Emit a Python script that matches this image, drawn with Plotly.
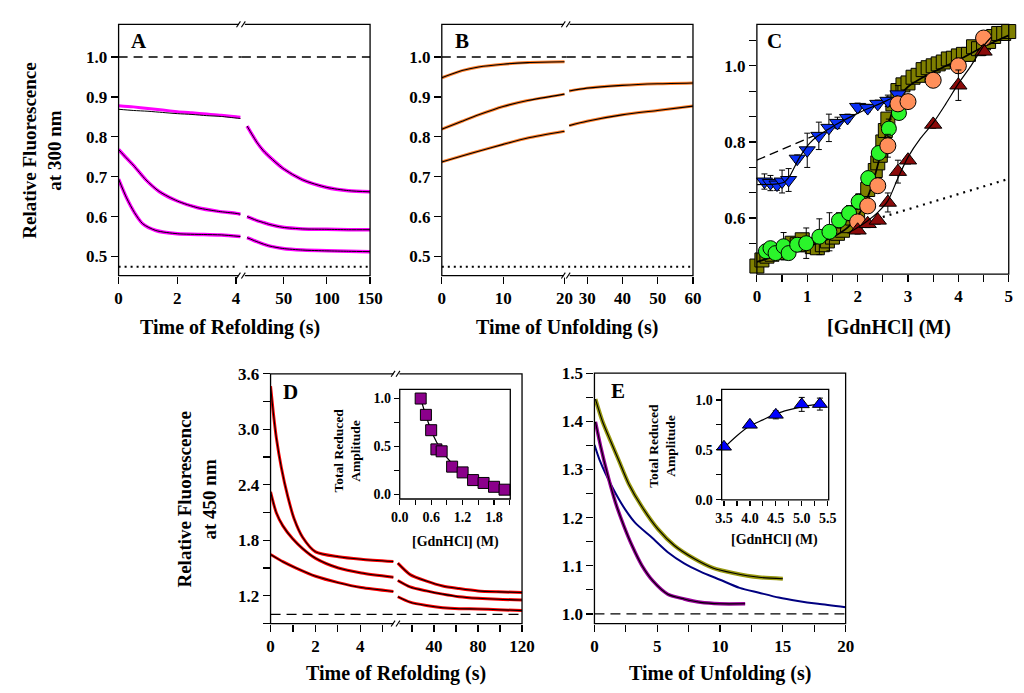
import plotly.graph_objects as go

# ---------------- data ----------------
# Panel A : refolding traces at 300 nm (left: 0-4.2 s, right: after the axis break)
A1_t_left = [0, 0.5, 1.0, 1.5, 2.0, 2.5, 3.0, 3.5, 4.0, 4.15]
A1_data_left = [0.878, 0.875, 0.871, 0.867, 0.863, 0.860, 0.857, 0.854, 0.850, 0.849]
A1_fit_left = [0.869, 0.866, 0.864, 0.861, 0.858, 0.856, 0.853, 0.851, 0.847, 0.846]
A2_t_left = [0, 0.25, 0.5, 0.93, 1.38, 2.0, 2.7, 3.4, 4.0, 4.15]
A2_left = [0.768, 0.748, 0.729, 0.692, 0.663, 0.639, 0.622, 0.613, 0.608, 0.606]
A3_t_left = [0, 0.27, 0.54, 0.82, 1.27, 2.0, 2.9, 3.5, 4.15]
A3_left = [0.694, 0.647, 0.610, 0.582, 0.565, 0.557, 0.555, 0.554, 0.550]
A_t_right = [7.6, 13.3, 19, 26.5, 34, 49, 72, 100, 125, 150]
A1_right = [0.827, 0.806, 0.786, 0.765, 0.749, 0.721, 0.692, 0.673, 0.665, 0.662]
A2_right = [0.600, 0.595, 0.590, 0.585, 0.580, 0.573, 0.569, 0.568, 0.567, 0.567]
A3_right = [0.547, 0.542, 0.537, 0.531, 0.526, 0.520, 0.516, 0.514, 0.513, 0.512]
A_native = 1.0
A_unfolded = 0.474

# Panel B : unfolding traces at 300 nm
B_t_left = [0, 3.3, 6, 10, 14, 20]
B1_left = [0.948, 0.966, 0.975, 0.982, 0.986, 0.988]
B2_left = [0.819, 0.839, 0.855, 0.876, 0.891, 0.907]
B3_left = [0.737, 0.752, 0.764, 0.781, 0.797, 0.814]
B_t_right = [24.9, 29.9, 39.9, 49.9, 60]
B2_right = [0.915, 0.922, 0.929, 0.933, 0.935]
B3_right = [0.828, 0.839, 0.855, 0.866, 0.877]

# Panel C : equilibrium / kinetic amplitudes vs [GdnHCl]
C_sq_x = [0.0, 0.1, 0.2, 0.3, 0.45, 0.6, 0.7, 0.8, 0.9, 1.0, 1.1, 1.2, 1.3, 1.4, 1.5, 1.6,
          1.7, 1.8, 1.9, 2.0, 2.1, 2.2, 2.3, 2.35, 2.4, 2.45, 2.5, 2.55, 2.6, 2.7, 2.8, 2.9,
          3.0, 3.1, 3.2, 3.3, 3.4, 3.5, 3.6, 3.7, 3.8, 3.9, 4.0, 4.1, 4.2, 4.3, 4.4, 4.5,
          4.6, 4.7, 4.8, 4.9, 5.0]
C_sq_y = [0.474, 0.490, 0.500, 0.505, 0.510, 0.520, 0.534, 0.530, 0.543, 0.530, 0.525, 0.522,
          0.530, 0.540, 0.550, 0.560, 0.568, 0.580, 0.600, 0.615, 0.645, 0.675, 0.705, 0.725,
          0.745, 0.765, 0.800, 0.830, 0.860, 0.900, 0.935, 0.950, 0.955, 0.970, 0.975, 0.990,
          0.995, 1.000, 1.005, 1.010, 1.018, 1.020, 1.026, 1.030, 1.030, 1.050, 1.045, 1.060,
          1.064, 1.077, 1.085, 1.085, 1.090]
C_blue_x = [0.15, 0.27, 0.4, 0.5, 0.63, 0.8, 1.0, 1.23, 1.43, 1.6, 1.8, 2.0, 2.2, 2.4, 2.6, 2.8]
C_blue_y = [0.696, 0.692, 0.688, 0.696, 0.700, 0.756, 0.778, 0.816, 0.837, 0.850, 0.863, 0.892,
            0.889, 0.900, 0.908, 0.925]
C_blue_err = [0.02, 0.02, 0.015, 0.03, 0.03, 0.01, 0.045, 0.036, 0.036, 0.015, 0.01, 0.01,
              0.01, 0.01, 0.015, 0.023]
C_green_x = [0.18, 0.27, 0.37, 0.53, 0.63, 0.8, 0.98, 1.24, 1.44, 1.63, 1.83, 2.02, 2.21, 2.42,
             2.62, 2.82]
C_green_y = [0.513, 0.521, 0.508, 0.526, 0.508, 0.530, 0.534, 0.551, 0.564, 0.594, 0.613, 0.643,
             0.705, 0.771, 0.835, 0.876]
C_green_err = [0.01, 0.01, 0.01, 0.036, 0.01, 0.015, 0.04, 0.047, 0.05, 0.02, 0.02, 0.02, 0.015,
               0.015, 0.025, 0.015]
C_orange_x = [2.0, 2.2, 2.4, 2.6, 2.8, 3.0, 3.5, 4.0, 4.5]
C_orange_y = [0.590, 0.632, 0.685, 0.790, 0.900, 0.906, 0.962, 1.000, 1.073]
C_orange_err = [0.01, 0.01, 0.01, 0.03, 0.01, 0.01, 0.01, 0.02, 0.01]
C_red_x = [2.0, 2.2, 2.4, 2.6, 2.8, 3.0, 3.5, 4.0, 4.5]
C_red_y = [0.568, 0.585, 0.594, 0.641, 0.722, 0.752, 0.846, 0.949, 1.038]
C_red_err = [0.01, 0.01, 0.01, 0.025, 0.03, 0.01, 0.01, 0.04, 0.01]
C_fit_x = [0, 0.5, 1.0, 1.5, 1.8, 2.0, 2.2, 2.35, 2.5, 2.6, 2.7, 2.8, 3.0, 3.3, 3.6, 4.0, 4.5, 5.0]
C_fit_y = [0.485, 0.505, 0.525, 0.550, 0.575, 0.605, 0.655, 0.715, 0.790, 0.840, 0.885, 0.915,
           0.945, 0.970, 0.990, 1.015, 1.050, 1.080]
C_bluefit_x = [0, 0.4, 0.55, 0.65, 0.75, 0.85, 0.95, 1.05, 1.2, 1.4, 1.6, 1.8, 2.0, 2.2, 2.4, 2.6, 2.8]
C_bluefit_y = [0.688, 0.690, 0.695, 0.710, 0.735, 0.760, 0.780, 0.797, 0.815, 0.832, 0.848, 0.862,
               0.875, 0.887, 0.898, 0.910, 0.922]
C_redfit_x = [1.8, 2.0, 2.2, 2.4, 2.6, 2.8, 3.0, 3.25, 3.5, 3.75, 4.0, 4.25, 4.5, 4.65]
C_redfit_y = [0.560, 0.575, 0.593, 0.615, 0.645, 0.705, 0.760, 0.810, 0.850, 0.900, 0.953, 1.000,
              1.052, 1.075]
C_native_x = [0, 1.2]
C_native_y = [0.752, 0.820]
C_unf_x = [2.5, 5.0]
C_unf_y = [0.603, 0.703]

# Panel D : refolding traces at 450 nm
D1_t_left = [0, 0.12, 0.26, 0.48, 0.77, 1.06, 1.43, 2.01, 3.03, 4.05, 5.48]
D1_left = [3.466, 3.186, 2.905, 2.588, 2.272, 2.027, 1.833, 1.675, 1.622, 1.595, 1.570]
D2_t_left = [0, 0.26, 0.55, 0.99, 1.43, 2.01, 3.03, 4.05, 5.48]
D2_left = [2.325, 2.096, 1.956, 1.816, 1.711, 1.605, 1.500, 1.447, 1.401]
D3_t_left = [0, 0.55, 1.14, 2.01, 3.03, 4.05, 5.48]
D3_left = [1.647, 1.569, 1.500, 1.411, 1.342, 1.289, 1.247]
D_t_right = [7.2, 18.4, 33.2, 48, 62.8, 80, 98.3, 120]
D1_right = [1.553, 1.429, 1.359, 1.306, 1.279, 1.253, 1.243, 1.236]
D2_right = [1.366, 1.296, 1.253, 1.218, 1.190, 1.173, 1.162, 1.155]
D3_right = [1.190, 1.131, 1.095, 1.071, 1.060, 1.058, 1.050, 1.040]
D_base = 1.0
Dins_x = [0.4, 0.5, 0.6, 0.7, 0.8, 1.0, 1.2, 1.4, 1.6, 1.8, 2.0]
Dins_y = [1.00, 0.83, 0.67, 0.47, 0.45, 0.29, 0.23, 0.15, 0.12, 0.08, 0.05]
Dins_fit_y = [1.00, 0.82, 0.67, 0.55, 0.46, 0.32, 0.22, 0.15, 0.11, 0.08, 0.05]

# Panel E : unfolding traces at 450 nm
E_olive_t = [0.08, 0.65, 1.3, 1.95, 2.73, 3.77, 5.06, 6.36, 7.92, 9.48, 11.04, 13.1, 15.0]
E_olive = [1.446, 1.399, 1.358, 1.318, 1.270, 1.223, 1.176, 1.142, 1.115, 1.095, 1.085, 1.076, 1.073]
E_navy_t = [0, 0.39, 0.91, 1.69, 2.47, 3.25, 4.55, 5.84, 7.14, 8.44, 10.0, 11.56, 13.1, 14.67,
            16.2, 17.8, 20.0]
E_navy = [1.351, 1.321, 1.290, 1.250, 1.216, 1.189, 1.159, 1.128, 1.105, 1.088, 1.071, 1.054,
          1.044, 1.034, 1.027, 1.021, 1.014]
E_purple_t = [0.08, 0.52, 1.04, 1.69, 2.34, 2.99, 3.77, 4.67, 5.84, 7.14, 8.44, 10.0, 12.0]
E_purple = [1.399, 1.345, 1.290, 1.230, 1.183, 1.142, 1.101, 1.068, 1.041, 1.031, 1.024, 1.021, 1.021]
E_base = 1.0
Eins_x = [3.5, 4.0, 4.5, 5.0, 5.35]
Eins_y = [0.53, 0.75, 0.85, 0.955, 0.958]
Eins_err = [0.02, 0.02, 0.04, 0.07, 0.06]
Eins_fit_x = [3.5, 3.75, 4.0, 4.25, 4.5, 4.75, 5.0, 5.35]
Eins_fit_y = [0.52, 0.64, 0.74, 0.80, 0.86, 0.90, 0.93, 0.96]

# tick labels
A_yt = [0.5, 0.6, 0.7, 0.8, 0.9, 1.0]
A_yl = ["0.5", "0.6", "0.7", "0.8", "0.9", "1.0"]
A_xt_l, A_xl_l = [0, 2, 4], ["0", "2", "4"]
A_xt_r, A_xl_r = [50, 100, 150], ["50", "100", "150"]
B_xt_l, B_xl_l = [0, 10, 20], ["0", "10", "20"]
B_xt_r, B_xl_r = [30, 40, 50, 60], ["30", "40", "50", "60"]
C_xt = [0, 0.5, 1, 1.5, 2, 2.5, 3, 3.5, 4, 4.5, 5]
C_xl = ["0", "", "1", "", "2", "", "3", "", "4", "", "5"]
C_yt = [0.5333, 0.6, 0.6667, 0.7333, 0.8, 0.8667, 0.9333, 1.0, 1.0667]
C_yl = ["", "0.6", "", "", "0.8", "", "", "1.0", ""]
D_yt = [0.9, 1.2, 1.5, 1.8, 2.1, 2.4, 2.7, 3.0, 3.3, 3.6]
D_yl = ["", "1.2", "", "1.8", "", "2.4", "", "3.0", "", "3.6"]
D_xt_l, D_xl_l = [0, 1, 2, 3, 4, 5], ["0", "", "2", "", "4", ""]
D_xt_r, D_xl_r = [20, 40, 60, 80, 100, 120], ["", "40", "", "80", "", "120"]
E_yt = [1.0, 1.05, 1.1, 1.15, 1.2, 1.25, 1.3, 1.35, 1.4, 1.45, 1.5]
E_yl = ["1.0", "", "1.1", "", "1.2", "", "1.3", "", "1.4", "", "1.5"]
E_xt = [0, 2.5, 5, 7.5, 10, 12.5, 15, 17.5, 20]
E_xl = ["0", "", "5", "", "10", "", "15", "", "20"]
Di_xt = [0, 0.3, 0.6, 0.9, 1.2, 1.5, 1.8, 2.1]
Di_xl = ["0.0", "", "0.6", "", "1.2", "", "1.8", ""]
In_yt = [0, 0.25, 0.5, 0.75, 1.0]
In_yl = ["0.0", "", "0.5", "", "1.0"]
Ei_xt = [3.5, 3.75, 4.0, 4.25, 4.5, 4.75, 5.0, 5.25, 5.5]
Ei_xl = ["3.5", "", "4.0", "", "4.5", "", "5.0", "", "5.5"]

# ---------------- layout helpers ----------------
W, H = 1024, 693
FONT = "Liberation Serif, Times New Roman, serif"


def X(px):
    return px / W


def Y(py):
    return 1 - py / H


def tf(size):
    return dict(family=FONT, size=size, color="black", weight="bold")


def ax(dom, rng, anchor, tv, tt, size=17, tl=7):
    return dict(domain=dom, range=rng, anchor=anchor, tickmode="array", tickvals=tv,
                ticktext=tt, ticks="outside", ticklen=tl, tickwidth=1.2, tickcolor="black",
                showline=False, showgrid=False, zeroline=False, tickfont=tf(size),
                fixedrange=True)


fig = go.Figure()


def line(x, y, xa, ya, color, width, dash=None, shape="spline"):
    fig.add_trace(go.Scatter(x=x, y=y, xaxis=xa, yaxis=ya, mode="lines",
                             line=dict(color=color, width=width, dash=dash, shape=shape,
                                       smoothing=0.7),
                             showlegend=False, hoverinfo="skip"))


def pts(x, y, xa, ya, color, symbol, size, err=None):
    fig.add_trace(go.Scatter(x=x, y=y, xaxis=xa, yaxis=ya, mode="markers",
                             marker=dict(color=color, symbol=symbol, size=size,
                                         line=dict(color="black", width=1)),
                             error_y=(dict(type="data", array=err, color="black",
                                           thickness=1, width=3) if err else None),
                             cliponaxis=False, showlegend=False, hoverinfo="skip"))


MAG, ORG, RED = "#FF00FF", "#FF7F2A", "#FF0000"

# ---- Panel A ----
line([0, 4.2], [A_native] * 2, "x", "y", "black", 1.3, "9px,6px", "linear")
line([1.6, 150], [A_native] * 2, "x2", "y", "black", 1.3, "9px,6px", "linear")
line([0, 4.05], [A_unfolded] * 2, "x", "y", "black", 2, "2px,4px", "linear")
line([6, 150], [A_unfolded] * 2, "x2", "y", "black", 2, "2px,4px", "linear")
line(A1_t_left, A1_data_left, "x", "y", MAG, 3)
line(A1_t_left, A1_fit_left, "x", "y", "black", 1)
for tl_, yl_ in [(A2_t_left, A2_left), (A3_t_left, A3_left)]:
    line(tl_, yl_, "x", "y", MAG, 3.5)
    line(tl_, yl_, "x", "y", "black", 1)
for yr in [A1_right, A2_right, A3_right]:
    line(A_t_right, yr, "x2", "y", MAG, 3.5)
    line(A_t_right, yr, "x2", "y", "black", 1)

# ---- Panel B ----
line([0, 20.4], [A_native] * 2, "x3", "y2", "black", 1.3, "9px,6px", "linear")
line([24.2, 60], [A_native] * 2, "x4", "y2", "black", 1.3, "9px,6px", "linear")
line([0, 20.0], [A_unfolded] * 2, "x3", "y2", "black", 2, "2px,4px", "linear")
line([24.6, 60], [A_unfolded] * 2, "x4", "y2", "black", 2, "2px,4px", "linear")
for yl_ in [B1_left, B2_left, B3_left]:
    line(B_t_left, yl_, "x3", "y2", ORG, 3)
    line(B_t_left, yl_, "x3", "y2", "black", 1.1)
for yr in [B2_right, B3_right]:
    line(B_t_right, yr, "x4", "y2", ORG, 3)
    line(B_t_right, yr, "x4", "y2", "black", 1.1)

# ---- Panel C ----
pts(C_sq_x, C_sq_y, "x5", "y3", "#7F7F00", "square", 14)
line(C_fit_x, C_fit_y, "x5", "y3", "black", 1.8)
line(C_native_x, C_native_y, "x5", "y3", "black", 1.3, "9px,5px", "linear")
line(C_unf_x, C_unf_y, "x5", "y3", "black", 2.2, "2px,5px", "linear")
pts(C_blue_x, C_blue_y, "x5", "y3", "#0A30F5", "triangle-down", 14, C_blue_err)
line(C_bluefit_x, C_bluefit_y, "x5", "y3", "black", 1.2)
pts(C_green_x, C_green_y, "x5", "y3", "#2BF52B", "circle", 15, C_green_err)
pts(C_orange_x, C_orange_y, "x5", "y3", "#FF8F5A", "circle", 16, C_orange_err)
pts(C_red_x, C_red_y, "x5", "y3", "#8B0A0A", "triangle-up", 15, C_red_err)
line(C_redfit_x, C_redfit_y, "x5", "y3", "black", 1.2)

# ---- Panel D ----
line([0, 5.62], [D_base] * 2, "x6", "y4", "black", 1.3, "10px,6px", "linear")
line([6, 120], [D_base] * 2, "x7", "y4", "black", 1.3, "10px,6px", "linear")
for tl_, yl_ in [(D1_t_left, D1_left), (D2_t_left, D2_left), (D3_t_left, D3_left)]:
    line(tl_, yl_, "x6", "y4", RED, 3)
    line(tl_, yl_, "x6", "y4", "black", 1.1)
for yr in [D1_right, D2_right, D3_right]:
    line(D_t_right, yr, "x7", "y4", RED, 3)
    line(D_t_right, yr, "x7", "y4", "black", 1.1)
line(Dins_x, Dins_fit_y, "x9", "y6", "black", 1.2)
pts(Dins_x, Dins_y, "x9", "y6", "#8B008B", "square", 11)

# ---- Panel E ----
line([0, 20], [E_base] * 2, "x8", "y5", "black", 1.3, "10px,6px", "linear")
line(E_navy_t, E_navy, "x8", "y5", "#000080", 2)
line(E_olive_t, E_olive, "x8", "y5", "#9A9A10", 4)
line(E_olive_t, E_olive, "x8", "y5", "black", 1.1)
line(E_purple_t, E_purple, "x8", "y5", "#990099", 3.5)
line(E_purple_t, E_purple, "x8", "y5", "black", 1.1)
line(Eins_fit_x, Eins_fit_y, "x10", "y7", "black", 1.2)
pts(Eins_x, Eins_y, "x10", "y7", "#0000FF", "triangle-up", 13, Eins_err)

# ---------------- axes ----------------
yA = [Y(273.3), Y(15.7)]
layout = dict(
    xaxis=ax([X(112), X(238)], [0, 4.2], "y", A_xt_l, A_xl_l),
    xaxis2=ax([X(238), X(369)], [1.6, 150], "y", A_xt_r, A_xl_r),
    yaxis=ax(yA, [0.452, 1.082], "x", A_yt, A_yl),
    xaxis3=ax([X(442.3), X(570)], [0, 20.37], "y2", B_xt_l, B_xl_l),
    xaxis4=ax([X(570), X(699)], [24.2, 60], "y2", B_xt_r, B_xl_r),
    yaxis2=ax(yA, [0.452, 1.082], "x3", A_yt, A_yl),
    xaxis5=ax([X(764.3), X(1021.7)], [0, 5], "y3", C_xt, C_xl),
    yaxis3=ax([Y(271.7), Y(15.7)], [0.453, 1.109], "x5", C_yt, C_yl),
    xaxis6=ax([X(267.3), X(396)], [0, 5.62], "y4", D_xt_l, D_xl_l),
    xaxis7=ax([X(396), X(524.3)], [6, 120], "y4", D_xt_r, D_xl_r),
    yaxis4=ax([Y(630), Y(374)], [0.9, 3.6], "x6", D_yt, D_yl),
    xaxis8=ax([X(598.3), X(855)], [0, 20], "y5", E_xt, E_xl),
    yaxis5=ax([Y(630), Y(373.3)], [0.98, 1.5], "x8", E_yt, E_yl),
    xaxis9=ax([X(399.3), X(512.3)], [0, 2.11], "y6", Di_xt, Di_xl, 14, 5),
    yaxis6=ax([Y(502.3), Y(390)], [-0.047, 1.095], "x9", In_yt, In_yl, 14, 5),
    xaxis10=ax([X(728.3), X(837.7)], [3.455, 5.52], "y7", Ei_xt, Ei_xl, 14, 5),
    yaxis7=ax([Y(503.3), Y(390)], [-0.003, 1.105], "x10", In_yt, In_yl, 14, 5),
)

shapes = []


def frame(x0, y0, x1, y1):
    shapes.append(dict(type="rect", xref="paper", yref="paper", x0=X(x0), x1=X(x1),
                       y0=Y(y1), y1=Y(y0), line=dict(color="black", width=1.3),
                       fillcolor="rgba(0,0,0,0)", layer="above"))


def brk(bx, by):
    shapes.append(dict(type="rect", xref="paper", yref="paper", x0=X(bx - 3), x1=X(bx + 3),
                       y0=Y(by + 2), y1=Y(by - 2), line=dict(width=0), fillcolor="white",
                       layer="above"))
    for dx in (-3.5, 1.5):
        shapes.append(dict(type="line", xref="paper", yref="paper",
                           x0=X(bx + dx - 2), y0=Y(by + 3), x1=X(bx + dx + 2), y1=Y(by - 3),
                           line=dict(color="black", width=1.1), layer="above"))


frame(112, 15.7, 369, 273.3)
frame(442.3, 15.7, 699, 273.3)
frame(764.3, 15.7, 1021.7, 271.7)
frame(267.3, 374, 524.3, 630)
frame(598.3, 373.3, 855, 630)
frame(399.3, 390, 512.3, 502.3)
frame(728.3, 390, 837.7, 503.3)
for bx, (t, b) in [(238, (15.7, 273.3)), (570, (15.7, 273.3)), (396, (374, 630))]:
    brk(bx, t)
    brk(bx, b)

ann = []


def text(s, px, py, size, angle=0):
    ann.append(dict(text=s, x=X(px), y=Y(py), xref="paper", yref="paper", showarrow=False,
                    xanchor="center", yanchor="middle", textangle=angle, font=tf(size)))


text("A", 133, 33, 21)
text("B", 463, 33, 21)
text("C", 782, 33, 21)
text("D", 288, 393, 21)
text("E", 622, 392, 21)
text("Relative Fluorescence<br>at 300 nm", 34, 145, 19, -90)
text("Relative Fluorescence<br>at 450 nm", 192, 503, 19, -90)
text("Time of Refolding (s)", 226, 327, 20)
text("Time of Unfolding (s)", 570, 327, 20)
text("[GdnHCl] (M)", 899, 327, 20)
text("Time of Refolding (s)", 396, 681, 20)
text("Time of Unfolding (s)", 727, 681, 20)
text("Total Reduced<br>Amplitude", 346, 453, 13.5, -90)
text("[GdnHCl] (M)", 456, 546, 14)
text("Total Reduced<br>Amplitude", 667, 448, 13.5, -90)
text("[GdnHCl] (M)", 782, 544, 14)

fig.update_layout(**layout)
fig.update_layout(width=W, height=H, margin=dict(l=0, r=0, t=0, b=0),
                  paper_bgcolor="white", plot_bgcolor="rgba(0,0,0,0)",
                  shapes=shapes, annotations=ann, showlegend=False)
fig.write_html("out.html", config={"displayModeBar": False, "staticPlot": True},
               post_script="document.body.style.margin='0';document.body.style.overflow='hidden';")
